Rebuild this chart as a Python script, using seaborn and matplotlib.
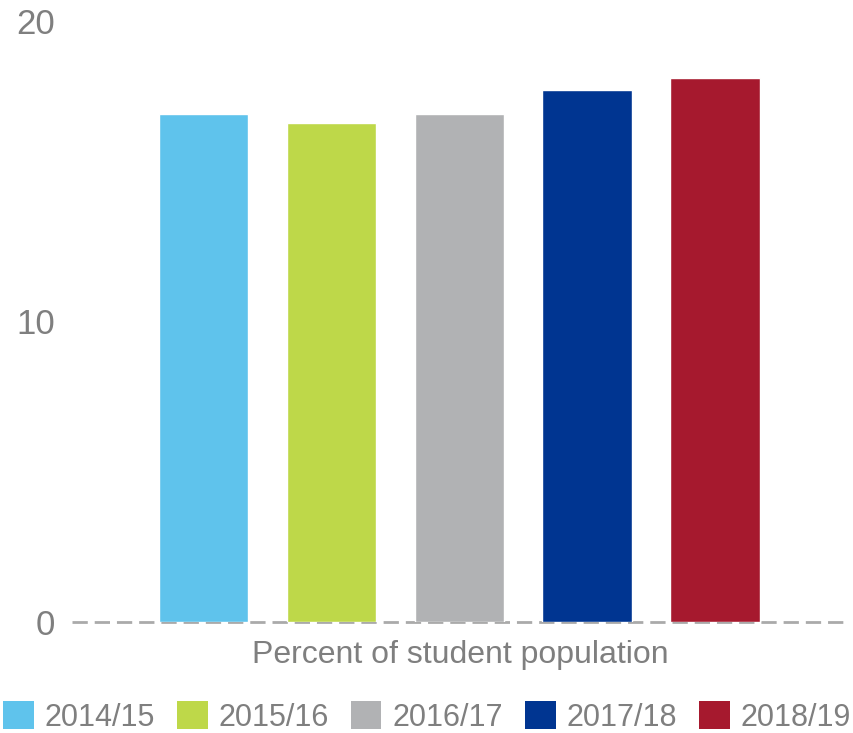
import matplotlib
matplotlib.use("Agg")
import matplotlib.pyplot as plt
import matplotlib.patches as mpatches
import seaborn as sns
import pandas as pd

years = ["2014/15", "2015/16", "2016/17", "2017/18", "2018/19"]
values = [16.9, 16.6, 16.9, 17.7, 18.1]
colors = ["#5FC3EC", "#BED849", "#B1B2B4", "#003591", "#A6192E"]
yticks = [0, 10, 20]
xlabel = "Percent of student population"

sns.set_theme(style="white")
plt.rcParams["font.family"] = ["Liberation Sans", "DejaVu Sans"]
gray = "#7f7f7f"

df = pd.DataFrame({"year": years, "value": values})

fig = plt.figure(figsize=(8.54, 7.33), dpi=100)
ax = fig.add_axes([72/854, 1 - 621.7/733, (848-72)/854, (621.7-21)/733])

sns.barplot(data=df, x="year", y="value", hue="year", palette=colors,
            width=0.7, dodge=False, legend=False, ax=ax, saturation=1)

ax.set_xlim(-1.03, 5.04)
ax.set_ylim(0, 20)
ax.set_yticks(yticks)
ax.set_yticklabels([str(t) for t in yticks], fontsize=25, color=gray)
ax.tick_params(axis="y", length=0, pad=12)
ax.set_xticks([])
ax.set_xlabel(xlabel, fontsize=23, color=gray, labelpad=13)
ax.set_ylabel("")
for s in ax.spines.values():
    s.set_visible(False)
ax.axhline(0, color="#aaaaaa", lw=2, ls=(0, (5.5, 2.5)), zorder=0, clip_on=False)

handles = [mpatches.Patch(facecolor=c, edgecolor="none", label=y) for y, c in zip(years, colors)]
leg = fig.legend(handles=handles, loc="center", bbox_to_anchor=(0.5, 1 - 717/733),
                 ncol=5, frameon=False, fontsize=22, handlelength=1.0, handleheight=1.0,
                 handletextpad=0.36, columnspacing=0.72, borderaxespad=0, borderpad=0)
for t in leg.get_texts():
    t.set_color(gray)

fig.savefig("out.png", dpi=100)
